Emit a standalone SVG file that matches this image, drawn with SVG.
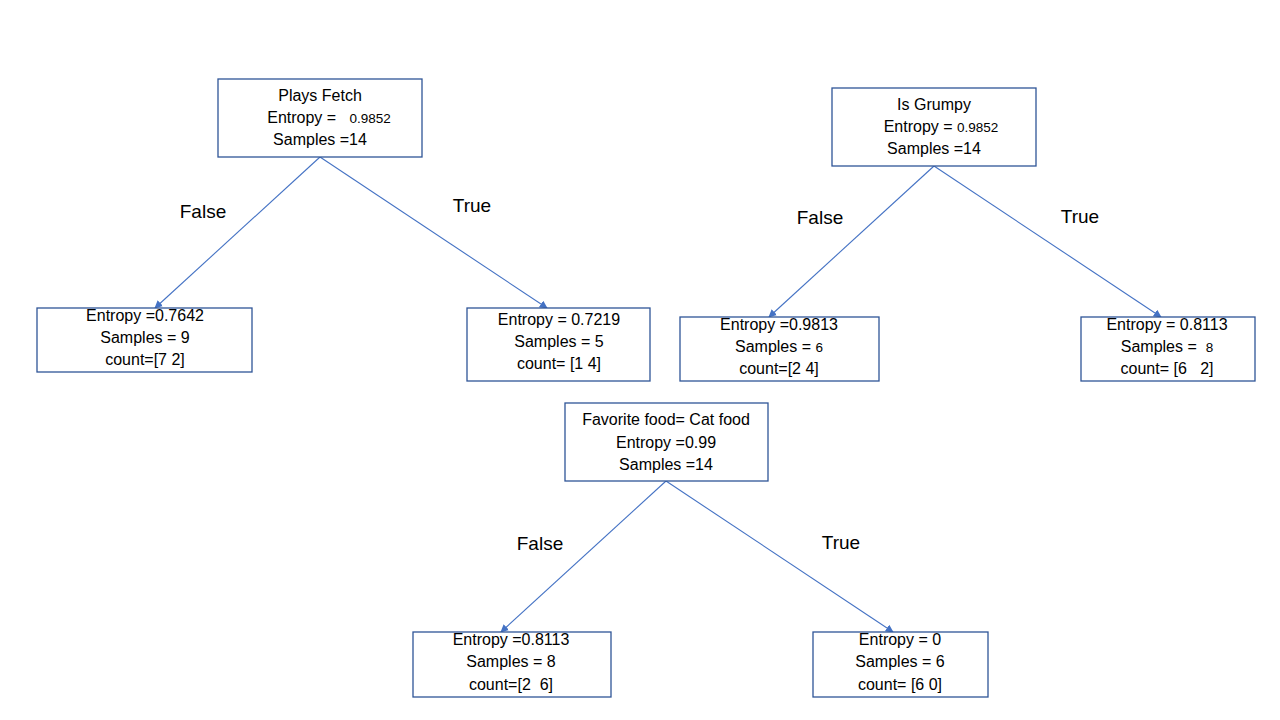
<svg xmlns="http://www.w3.org/2000/svg" width="1280" height="720" viewBox="0 0 1280 720">
<defs>
<style>
.box{fill:#fff;stroke:#2F5597;stroke-width:1.3}
.t{font-family:"Liberation Sans",Arial,sans-serif;font-size:16px;fill:#000;text-anchor:middle}
.sm{font-size:13.5px}
.lbl{font-family:"Liberation Sans",Arial,sans-serif;font-size:19px;fill:#000;text-anchor:middle}
.edge{stroke:#4472C4;stroke-width:1.1;fill:none;marker-end:url(#arr)}
</style>
<marker id="arr" viewBox="0 0 10 10" refX="9" refY="5" markerWidth="8" markerHeight="8" orient="auto" markerUnits="userSpaceOnUse">
<path d="M0,0 L10,5 L0,10 z" fill="#4472C4"/>
</marker>
</defs>
<rect width="1280" height="720" fill="#fff"/>
<g id="connectors">
<line class="edge" x1="320" y1="157" x2="155" y2="308"/>
<line class="edge" x1="320" y1="157" x2="547" y2="308"/>
<line class="edge" x1="934" y1="166" x2="769" y2="317"/>
<line class="edge" x1="934" y1="166" x2="1161" y2="317"/>
<line class="edge" x1="666" y1="481" x2="501" y2="632"/>
<line class="edge" x1="666" y1="481" x2="893" y2="632"/>
</g>
<g id="edge-labels">
<text class="lbl" x="203" y="218">False</text>
<text class="lbl" x="472" y="212">True</text>
<text class="lbl" x="820" y="224">False</text>
<text class="lbl" x="1080" y="223">True</text>
<text class="lbl" x="540" y="550">False</text>
<text class="lbl" x="841" y="549">True</text>
</g>
<g id="plays-fetch">
<rect class="box" x="218" y="79" width="204" height="78"/>
<text class="t" x="320" y="101">Plays Fetch</text>
<text class="t" x="329" y="123" xml:space="preserve">Entropy =   <tspan class="sm">0.9852</tspan></text>
<text class="t" x="320" y="145">Samples =14</text>
</g>
<g id="is-grumpy">
<rect class="box" x="832" y="88" width="204" height="78"/>
<text class="t" x="934" y="110">Is Grumpy</text>
<text class="t" x="941" y="132" xml:space="preserve">Entropy = <tspan class="sm">0.9852</tspan></text>
<text class="t" x="934" y="154">Samples =14</text>
</g>
<g id="leaf-pf-false">
<rect class="box" x="37" y="308" width="215" height="64"/>
<text class="t" x="145" y="321">Entropy =0.7642</text>
<text class="t" x="145" y="343">Samples = 9</text>
<text class="t" x="145" y="365">count=[7 2]</text>
</g>
<g id="leaf-pf-true">
<rect class="box" x="467" y="308" width="183" height="73"/>
<text class="t" x="559" y="325">Entropy = 0.7219</text>
<text class="t" x="559" y="347">Samples = 5</text>
<text class="t" x="559" y="369">count= [1 4]</text>
</g>
<g id="leaf-ig-false">
<rect class="box" x="680" y="317" width="199" height="64"/>
<text class="t" x="779" y="330">Entropy =0.9813</text>
<text class="t" x="779" y="352" xml:space="preserve">Samples = <tspan class="sm">6</tspan></text>
<text class="t" x="779" y="374">count=[2 4]</text>
</g>
<g id="leaf-ig-true">
<rect class="box" x="1081" y="317" width="174" height="64"/>
<text class="t" x="1167" y="330">Entropy = 0.8113</text>
<text class="t" x="1167" y="352" xml:space="preserve">Samples =  <tspan class="sm">8</tspan></text>
<text class="t" x="1167" y="374" xml:space="preserve">count= [6   2]</text>
</g>
<g id="favorite-food">
<rect class="box" x="565" y="403" width="203" height="78"/>
<text class="t" x="666" y="425">Favorite food= Cat food</text>
<text class="t" x="666" y="448">Entropy =0.99</text>
<text class="t" x="666" y="470">Samples =14</text>
</g>
<g id="leaf-ff-false">
<rect class="box" x="413" y="632" width="198" height="65"/>
<text class="t" x="511" y="645">Entropy =0.8113</text>
<text class="t" x="511" y="667">Samples = 8</text>
<text class="t" x="511" y="690" xml:space="preserve">count=[2  6]</text>
</g>
<g id="leaf-ff-true">
<rect class="box" x="813" y="632" width="175" height="65"/>
<text class="t" x="900" y="645">Entropy = 0</text>
<text class="t" x="900" y="667">Samples = 6</text>
<text class="t" x="900" y="690">count= [6 0]</text>
</g>
</svg>
